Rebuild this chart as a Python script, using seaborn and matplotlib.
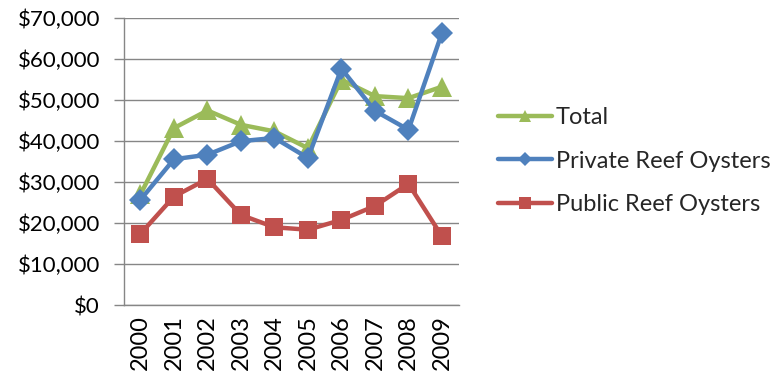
import numpy as np
import pandas as pd
import matplotlib
matplotlib.use("Agg")
import matplotlib.pyplot as plt
import seaborn as sns
from matplotlib.ticker import FuncFormatter, MultipleLocator

years = ["2000", "2001", "2002", "2003", "2004", "2005", "2006", "2007", "2008", "2009"]
total = [27000, 43200, 47500, 44000, 42400, 38300, 55000, 51000, 50500, 53300]
private = [25700, 35600, 36700, 40000, 40800, 35900, 57700, 47400, 42800, 66400]
public = [17400, 26500, 30800, 22000, 19000, 18400, 20800, 24200, 29600, 16800]
series_names = ["Total", "Private Reef Oysters", "Public Reef Oysters"]

sns.set_theme(style="white")
plt.rcParams["font.family"] = ["Lato", "DejaVu Sans"]

rows = []
for name, vals in zip(series_names, [total, private, public]):
    for i, v in enumerate(vals):
        rows.append({"x": i, "value": v, "series": name})
df = pd.DataFrame(rows)

palette = {"Total": "#9BBB59", "Private Reef Oysters": "#4F81BD", "Public Reef Oysters": "#C0504D"}
markers = {"Total": "^", "Private Reef Oysters": "D", "Public Reef Oysters": "s"}

fig = plt.figure(figsize=(7.78, 3.80), dpi=100)
ax = fig.add_axes([0.159, 0.197, 0.4306, 0.755])

sns.lineplot(data=df, x="x", y="value", hue="series", style="series",
             hue_order=series_names, style_order=series_names,
             palette=palette, markers=markers, dashes=False,
             linewidth=3.2, markersize=13, markeredgewidth=0, ax=ax)

for line in ax.lines:
    if line.get_marker() == "D":
        line.set_markersize(11)
    elif line.get_marker() == "^":
        line.set_markersize(14)

ax.set_xlim(-0.5, 9.5)
ax.set_ylim(0, 70000)
ax.yaxis.set_major_locator(MultipleLocator(10000))
ax.yaxis.set_major_formatter(FuncFormatter(lambda v, p: "${:,.0f}".format(v)))
ax.set_xticks(range(len(years)))
ax.set_xticklabels(years, rotation=90, fontsize=17, color="#000000")
ax.set_xticks(np.arange(-0.5, 10, 1), minor=True)
ax.tick_params(axis="x", which="major", length=0, pad=7)
ax.tick_params(axis="x", which="minor", length=7, width=1, color="#868686", direction="out")
ax.tick_params(axis="y", labelsize=16, length=7, width=1, color="#868686", direction="out", pad=10, left=True)
for lab in ax.get_yticklabels():
    lab.set_color("#000000")

ax.grid(axis="y", color="#868686", linewidth=1)
ax.set_axisbelow(True)
for s in ["top", "right"]:
    ax.spines[s].set_visible(False)
for s in ["left", "bottom"]:
    ax.spines[s].set_color("#868686")
    ax.spines[s].set_linewidth(1)
ax.set_xlabel("")
ax.set_ylabel("")

handles, labels = ax.get_legend_handles_labels()
if ax.legend_:
    ax.legend_.remove()
leg = fig.legend(handles, labels, loc="upper left", bbox_to_anchor=(0.64, 0.718),
                 frameon=False, fontsize=17, handlelength=2.3, handletextpad=0.15,
                 labelspacing=0.95, markerscale=0.65, borderaxespad=0, borderpad=0)

fig.savefig("out.png", dpi=100)
